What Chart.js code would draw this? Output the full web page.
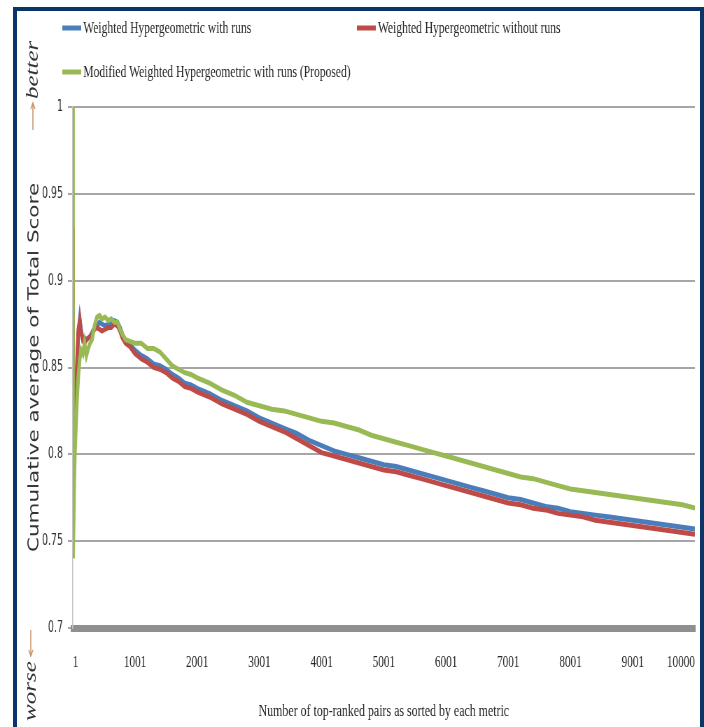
<!DOCTYPE html>
<html>
<head>
<meta charset="utf-8">
<script src="https://cdn.jsdelivr.net/npm/chart.js@4.4.0/dist/chart.umd.min.js"></script>
<style>
  html, body { margin: 0; padding: 0; background: #fff; overflow: hidden; }
  #frame { position: absolute; left: 13px; top: 7px; width: 683px; height: 740px;
           border: 4px solid #0a3568; border-bottom: none; }
  #chart { position: absolute; left: 0; top: 0; }
</style>
</head>
<body>
<div id="frame"></div>
<!-- drawn wide, then squeezed to 704px like the original figure -->
<canvas id="chart" width="1006" height="727" style="width:704px;height:727px"></canvas>
<script>
const pairCounts = [1, 3, 8, 15, 25, 35, 50, 70, 90, 113, 135, 162, 190, 220, 250, 280, 310, 350, 390, 430,
  470, 520, 570, 620, 670, 720, 760, 800, 850, 920, 1000, 1100, 1200, 1300, 1400, 1500, 1600, 1700, 1800, 1900,
  2000, 2200, 2400, 2600, 2800, 3000, 3200, 3400, 3600, 3800, 4000, 4200, 4400, 4600, 4800, 5000, 5200, 5400,
  5600, 5800, 6000, 6200, 6400, 6600, 6800, 7000, 7200, 7400, 7600, 7800, 8000, 8200, 8400, 8600, 8800, 9000,
  9200, 9400, 9600, 9800, 10000];

const withRuns = [0.930, 0.880, 0.840, 0.820, 0.812, 0.810, 0.825, 0.850, 0.870, 0.878, 0.872, 0.866, 0.867,
  0.866, 0.867, 0.868, 0.870, 0.873, 0.874, 0.876, 0.875, 0.874, 0.875, 0.876, 0.877, 0.876, 0.873, 0.869,
  0.865, 0.863, 0.860, 0.857, 0.855, 0.852, 0.851, 0.849, 0.846, 0.844, 0.841, 0.840, 0.838, 0.835, 0.831,
  0.828, 0.825, 0.821, 0.818, 0.815, 0.812, 0.808, 0.805, 0.802, 0.800, 0.798, 0.796, 0.794, 0.793, 0.791,
  0.789, 0.787, 0.785, 0.783, 0.781, 0.779, 0.777, 0.775, 0.774, 0.772, 0.770, 0.769, 0.767, 0.766, 0.765,
  0.764, 0.763, 0.762, 0.761, 0.760, 0.759, 0.758, 0.757];

const withoutRuns = [0.930, 0.880, 0.835, 0.815, 0.810, 0.810, 0.828, 0.855, 0.872, 0.877, 0.870, 0.866, 0.864,
  0.866, 0.867, 0.868, 0.869, 0.872, 0.873, 0.872, 0.871, 0.872, 0.873, 0.873, 0.875, 0.874, 0.871, 0.867,
  0.864, 0.862, 0.858, 0.855, 0.853, 0.850, 0.849, 0.847, 0.844, 0.842, 0.839, 0.838, 0.836, 0.833, 0.829,
  0.826, 0.823, 0.819, 0.816, 0.813, 0.809, 0.805, 0.801, 0.799, 0.797, 0.795, 0.793, 0.791, 0.790, 0.788,
  0.786, 0.784, 0.782, 0.780, 0.778, 0.776, 0.774, 0.772, 0.771, 0.769, 0.768, 0.766, 0.765, 0.764, 0.762,
  0.761, 0.760, 0.759, 0.758, 0.757, 0.756, 0.755, 0.754];

const proposed = [1.000, 0.800, 0.740, 0.760, 0.785, 0.800, 0.815, 0.832, 0.845, 0.855, 0.860, 0.858, 0.864,
  0.857, 0.861, 0.864, 0.866, 0.874, 0.879, 0.880, 0.878, 0.879, 0.877, 0.878, 0.876, 0.876, 0.872, 0.869,
  0.866, 0.865, 0.864, 0.864, 0.861, 0.861, 0.859, 0.855, 0.851, 0.849, 0.847, 0.846, 0.844, 0.841, 0.837,
  0.834, 0.830, 0.828, 0.826, 0.825, 0.823, 0.821, 0.819, 0.818, 0.816, 0.814, 0.811, 0.809, 0.807, 0.805,
  0.803, 0.801, 0.799, 0.797, 0.795, 0.793, 0.791, 0.789, 0.787, 0.786, 0.784, 0.782, 0.780, 0.779, 0.778,
  0.777, 0.776, 0.775, 0.774, 0.773, 0.772, 0.771, 0.769];

const seriesNames = ['Weighted Hypergeometric with runs', 'Weighted Hypergeometric without runs',
  'Modified Weighted Hypergeometric with runs (Proposed)'];
const xTickValues = [1, 1001, 2001, 3001, 4001, 5001, 6001, 7001, 8001, 9001, 10000];

const toPoints = ys => ys.map((y, i) => ({ x: pairCounts[i], y: y }));

// legend + the "better / worse" notes next to the y axis
const sideNotes = {
  id: 'sideNotes',
  afterDraw(chart) {
    const ctx = chart.ctx;
    ctx.save();
    const slots = [[89, 28], [510, 28], [89, 72]];
    chart.data.datasets.forEach((ds, i) => {
      const [x, y] = slots[i];
      ctx.strokeStyle = ds.borderColor;
      ctx.lineWidth = 5;
      ctx.beginPath();
      ctx.moveTo(x, y);
      ctx.lineTo(x + 27, y);
      ctx.stroke();
      ctx.fillStyle = '#262626';
      ctx.font = '16.5px "Liberation Serif", serif';
      ctx.textAlign = 'left';
      ctx.textBaseline = 'middle';
      ctx.fillText(ds.label, x + 30, y + 1);
    });

    ctx.strokeStyle = '#c8956a';
    ctx.lineWidth = 1.5;
    // up arrow (better)
    ctx.beginPath();
    ctx.moveTo(47, 130); ctx.lineTo(47, 103);
    ctx.moveTo(44, 109); ctx.lineTo(47, 103); ctx.lineTo(50, 109);
    ctx.stroke();
    // down arrow (worse)
    ctx.beginPath();
    ctx.moveTo(44, 630); ctx.lineTo(44, 656);
    ctx.moveTo(41, 650); ctx.lineTo(44, 656); ctx.lineTo(47, 650);
    ctx.stroke();

    ctx.fillStyle = '#333';
    ctx.font = 'italic 25px "Liberation Serif", serif';
    ctx.textAlign = 'left';
    ctx.textBaseline = 'middle';
    ctx.translate(47, 99);
    ctx.rotate(-Math.PI / 2);
    ctx.fillText('better', 0, 0);
    ctx.setTransform(1, 0, 0, 1, 0, 0);
    ctx.translate(44, 721);
    ctx.rotate(-Math.PI / 2);
    ctx.fillText('worse', 0, 0);
    ctx.restore();
  }
};

new Chart(document.getElementById('chart'), {
  type: 'line',
  data: {
    datasets: [{
      label: seriesNames[0],
      data: toPoints(withRuns),
      borderColor: '#4a7ebb',
      borderWidth: 5,
      pointRadius: 0,
      order: 3
    }, {
      label: seriesNames[1],
      data: toPoints(withoutRuns),
      borderColor: '#be4b48',
      borderWidth: 5,
      pointRadius: 0,
      order: 2
    }, {
      label: seriesNames[2],
      data: toPoints(proposed),
      borderColor: '#98b954',
      borderWidth: 5,
      pointRadius: 0,
      order: 1
    }]
  },
  options: {
    responsive: false,
    devicePixelRatio: 1,
    animation: false,
    layout: { padding: { left: 24, right: 13, top: 107, bottom: 4 } },
    plugins: {
      legend: { display: false },
      tooltip: { enabled: false }
    },
    scales: {
      x: {
        type: 'linear',
        min: 1,
        max: 10000,
        afterBuildTicks: scale => { scale.ticks = xTickValues.map(v => ({ value: v })); },
        afterFit: scale => {
          scale.height = 95;
          scale.paddingLeft = 0;
          scale.paddingRight = 0;
        },
        ticks: {
          callback: v => String(v),
          autoSkip: false,
          maxRotation: 0,
          align: 'inner',
          padding: 25,
          color: '#262626',
          font: { family: '"Liberation Serif", serif', size: 16 }
        },
        grid: { drawOnChartArea: false, drawTicks: false },
        border: { display: true, color: '#8f8f8f', width: 7 },
        title: {
          display: true,
          text: 'Number of top-ranked pairs as sorted by each metric',
          color: '#262626',
          font: { family: '"Liberation Serif", serif', size: 17 },
          padding: { top: 0, bottom: 1 }
        }
      },
      y: {
        min: 0.7,
        max: 1,
        afterFit: scale => { scale.width = 80; },
        ticks: {
          stepSize: 0.05,
          callback: v => String(+v.toFixed(2)),
          padding: 7,
          color: '#333',
          font: { family: '"Liberation Sans Narrow", "DejaVu Sans Condensed", sans-serif', size: 15 }
        },
        grid: { color: '#a6a6a6', lineWidth: 2, tickLength: 7 },
        border: { display: true, color: '#c4c4c4', width: 1.5 },
        title: {
          display: true,
          text: 'Cumulative average of Total Score',
          color: '#333',
          font: { family: '"DejaVu Sans", sans-serif', size: 21.5 },
          padding: { top: 13, bottom: 0 }
        }
      }
    }
  },
  plugins: [sideNotes]
});
</script>
</body>
</html>
